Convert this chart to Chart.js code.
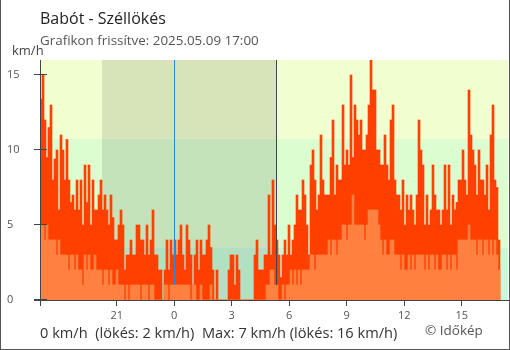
<!DOCTYPE html>
<html>
<head>
<meta charset="utf-8">
<script src="https://cdn.jsdelivr.net/npm/chart.js@4.4.1/dist/chart.umd.min.js"></script>
<style>
    html, body { margin: 0; padding: 0; background: #fff; }
    #wrap { width: 510px; height: 350px; }
</style>
</head>
<body>
<div id="wrap"><canvas id="szel" width="510" height="350"></canvas></div>
<script>
const title    = "Babót - Széllökés"
const subtitle = "Grafikon frissítve: 2025.05.09 17:00"
const unit     = "km/h"
const summary  = "0 km/h  (lökés: 2 km/h)  Max: 7 km/h (lökés: 16 km/h)"
const credit   = "© Időkép"

// 24 h of samples, first one at 17:00 the day before
const startHour = 17
const spanHours = 24

// széllökés (gust), km/h
const gust = [
    13.4, 15, 12, 9.5, 11.5, 13, 8, 9.4, 10, 6,
    11, 10, 8, 10.7, 8, 6.5, 7, 6, 8, 6,
    8, 5, 9, 6.5, 9, 5, 8, 6, 6, 7,
    8, 6, 7, 6, 5, 7, 5.5, 4, 4, 5,
    6, 5, 2, 3, 3, 4, 3, 3, 5, 5,
    4, 4, 3, 5, 3, 4, 6, 3, 3, 2,
    2, 0, 2, 4, 2, 4, 3, 4, 3, 4,
    5, 3, 2, 5, 4, 3, 1, 3, 4, 2,
    4, 3, 3, 4, 5, 3.5, 2, 0, 2, 0,
    0, 0, 0, 0, 2, 3, 3, 1, 3, 2,
    0, 0, 0, 0, 0, 0, 0, 3, 4, 2,
    2, 2, 3, 3, 7, 3, 8, 5, 4, 3,
    1.5, 3, 4, 3, 5, 3, 4, 5, 7, 6,
    6, 8, 7, 5, 3, 9, 10, 8, 6, 7,
    11, 8, 7, 7, 7, 9.5, 12, 7, 9, 8,
    8, 13, 9, 10, 9, 15, 9.5, 13, 12, 11,
    12, 10, 10, 11, 13, 16, 14, 14, 10, 10,
    9, 9, 11, 9, 8, 12, 13, 8, 7, 7,
    6, 8, 5, 7, 6, 7, 6, 5, 7, 12,
    10, 9, 5, 7, 5, 6, 9, 7, 6, 6,
    5, 6, 9, 6, 9, 5, 7, 6, 6.5, 8,
    8, 10, 8, 7, 14, 11, 10, 9, 7, 10,
    8, 8, 7, 9, 6, 11, 13, 8, 7.5, 4
]

// szélsebesség (mean wind), km/h
const speed = [
    5, 5, 4, 5, 4, 4, 4, 4, 3, 4,
    3, 3, 3, 3, 2, 3, 3, 2, 3, 2,
    2, 1, 3, 2, 3, 2, 2, 3, 2, 2,
    2, 1, 2, 2, 1, 2, 1, 1, 2, 1,
    1, 1, 0, 1, 0, 1, 1, 1, 1, 1,
    0, 1, 1, 1, 0, 1, 1, 0, 0, 0,
    0, 0, 1, 1, 0, 1, 1, 1, 1, 1,
    1, 1, 1, 1, 1, 0, 1, 1, 0, 0,
    1, 0, 0, 0, 0, 1, 0, 0, 0, 0,
    0, 0, 0, 0, 0, 0, 0, 0, 0, 0,
    0, 0, 0, 0, 0, 0, 0, 0, 0, 0,
    0, 0, 0, 1, 1, 2, 2, 1, 1, 0,
    0, 1, 0, 1, 1, 2, 1, 2, 1, 2,
    1, 2, 2, 2, 2, 3, 3, 2, 3, 3,
    3, 3, 3, 3, 4, 3, 4, 4, 3, 4,
    4, 5, 5, 4, 5, 5, 7, 5, 5, 5,
    5, 5, 4, 5, 6, 6, 6, 6, 6, 5,
    4, 3, 4, 3, 3, 4, 4, 3, 3, 3,
    2, 3, 2, 2, 3, 2, 3, 2, 3, 3,
    3, 3, 2, 3, 2, 3, 3, 2, 3, 2,
    2, 3, 3, 2, 3, 2, 3, 3, 2, 4,
    4, 4, 4, 4, 5, 4, 4, 4, 3, 4,
    4, 3, 4, 4, 3, 4, 3, 4, 3, 2
]

const xTickClock  = [17, 21, 0, 3, 6, 9, 12, 15]
const xTickLabels = ["", "21", "0", "3", "6", "9", "12", "15"]
const yTicks      = [0, 5, 10, 15]
const yMax        = 16

// háttérsávok: 0-1 m/s, 1-3 m/s, fölötte
const bandLimits = [0, 3.5, 10.75, yMax]
const bandColors = ["#c8fad8", "#dcfdd0", "#f0fed0"]

const sunset   = "20:14"
const sunrise  = "05:22"
const midnight = "00:00"

const hoursFrom = function (clock) {
    const [h, m] = String(clock).split(":").map(Number)
    return ((h + (m || 0) / 60) - startHour + 24) % 24
}

const points = function (values) {
    return values.map((v, i) => ({ x: (i + 0.5) * spanHours / values.length, y: v }))
}

const keret = {
    id: "keret",
    beforeDraw(chart) {
        const { ctx, chartArea: a, scales: { x, y } } = chart
        ctx.save()
        // sávok
        for (let i = 0; i < bandColors.length; i++) {
            const top = y.getPixelForValue(bandLimits[i + 1])
            const bot = y.getPixelForValue(bandLimits[i])
            ctx.fillStyle = bandColors[i]
            ctx.fillRect(a.left, top, a.right - a.left, bot - top)
        }
        // éjszaka
        const x0 = Math.round(x.getPixelForValue(hoursFrom(sunset)))
        const x1 = Math.round(x.getPixelForValue(hoursFrom(sunrise)))
        ctx.fillStyle = "rgba(0,0,0,0.1)"
        ctx.fillRect(x0, a.top, x1 - x0, a.bottom - a.top)
        // x tick marks, the bars cover the upper half
        ctx.fillStyle = "#444"
        xTickClock.forEach((h) => {
            const px = Math.floor(x.getPixelForValue(hoursFrom(h)))
            ctx.fillRect(px, a.bottom - 6, 1, 12)
        })
        ctx.restore()
    },
    afterDatasetsDraw(chart) {
        const { ctx, chartArea: a, scales: { x, y } } = chart
        ctx.save()
        const lineBottom = y.getPixelForValue(1)
        ctx.fillStyle = "#2a8ad8"
        ctx.fillRect(Math.floor(x.getPixelForValue(hoursFrom(midnight))), a.top, 1, lineBottom - a.top)
        ctx.fillStyle = "#444"
        ctx.fillRect(Math.round(x.getPixelForValue(hoursFrom(sunrise))) - 1, a.top, 1, lineBottom - a.top)
        // tengelyek
        ctx.fillRect(a.left, a.top, 1, a.bottom - a.top)
        ctx.fillRect(a.left - 6, a.bottom, chart.width - a.left + 6, 1)
        yTicks.forEach((v) => {
            const py = Math.round(y.getPixelForValue(v)) - 1
            ctx.fillRect(a.left - 6, py, 13, 1)
        })
        ctx.restore()
    },
    afterDraw(chart) {
        const { ctx, width, height } = chart
        ctx.save()
        ctx.textBaseline = "alphabetic"
        ctx.textAlign = "left"
        ctx.fillStyle = "#222"
        ctx.font = '16px "Open Sans"'
        ctx.fillText(title, 40, 24)
        ctx.fillStyle = "#555"
        ctx.font = '13.4px "Open Sans"'
        ctx.fillText(subtitle, 40, 45)
        ctx.fillStyle = "#444"
        ctx.font = '13px "Open Sans"'
        ctx.fillText(unit, 12, 55)
        ctx.fillStyle = "#333"
        ctx.font = '14.6px "Open Sans"'
        ctx.fillText(summary, 40, 338)
        ctx.fillStyle = "#555"
        ctx.font = '13.5px "Open Sans"'
        ctx.fillText(credit, 425, 335)
        // keret
        ctx.fillStyle = "#555"
        ctx.fillRect(0, 0, 1, height)
        ctx.fillRect(width - 1, 0, 1, height)
        ctx.fillRect(0, height - 1, width, 1)
        ctx.restore()
    }
}

const tickFont = { family: "Open Sans", size: 11 }

new Chart(document.getElementById("szel"), {
    type: "bar",
    data: {
        datasets: [
            { label: "szél",  data: points(speed), backgroundColor: "#ff8040" },
            { label: "lökés", data: points(gust),  backgroundColor: "#ff4000" }
        ]
    },
    options: {
        responsive: false,
        animation: false,
        layout: { padding: { left: 7, top: 60, right: 2, bottom: 30 } },
        datasets: { bar: { grouped: false, barPercentage: 1, categoryPercentage: 1, borderWidth: 0 } },
        plugins: { legend: { display: false }, tooltip: { enabled: false } },
        scales: {
            x: {
                type: "linear",
                offset: false,
                min: 0,
                max: spanHours + 25 / 60,
                grid: { display: false, drawTicks: false, offset: false },
                border: { display: false },
                afterBuildTicks: (s) => { s.ticks = xTickClock.map((h) => ({ value: hoursFrom(h) })) },
                afterFit: (s) => { s.height = 20 },
                ticks: {
                    autoSkip: false, maxRotation: 0, padding: 9, color: "#555", font: tickFont,
                    callback: (v, i) => xTickLabels[i]
                }
            },
            y: {
                min: 0,
                max: yMax,
                grid: { display: false, drawTicks: false },
                border: { display: false },
                afterBuildTicks: (s) => { s.ticks = yTicks.map((v) => ({ value: v })) },
                afterFit: (s) => { s.width = 33 },
                ticks: { crossAlign: "far", padding: 0, color: "#555", font: tickFont }
            }
        }
    },
    plugins: [keret]
})
</script>
</body>
</html>
